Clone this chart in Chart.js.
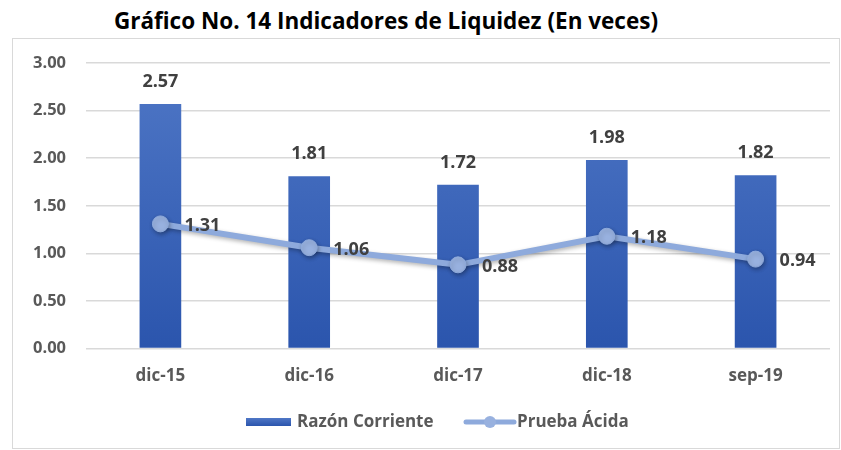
<!DOCTYPE html>
<html>
<head>
<meta charset="utf-8">
<script src="https://cdn.jsdelivr.net/npm/chart.js@4"></script>
<style>
  body { margin: 0; background: #fff; width: 841px; height: 450px; overflow: hidden; position: relative; font-family: "Open Sans", "Noto Sans", sans-serif; }
  #title { position: absolute; left: 0; top: 5px; width: 772px; text-align: center; font-weight: bold; font-size: 22.5px; color: #000; white-space: nowrap; }
  #box { position: absolute; left: 12px; top: 38px; width: 826px; height: 409px; border: 1px solid #d9d9d9; }
  #box canvas { display: block; }
</style>
</head>
<body>
<div id="title">Gráfico No. 14 Indicadores de Liquidez (En veces)</div>
<div id="box"><canvas id="chart" width="826" height="409"></canvas></div>
<script>
// Chart data
const categories = ["dic-15", "dic-16", "dic-17", "dic-18", "sep-19"];
const razonCorriente = [2.57, 1.81, 1.72, 1.98, 1.82];
const pruebaAcida = [1.31, 1.06, 0.88, 1.18, 0.94];
const yTicks = [0, 0.5, 1, 1.5, 2, 2.5, 3];

const labelColor = "#595959";
const valueColor = "#404040";
const fontFamily = "'Open Sans', 'Noto Sans', sans-serif";

// vertical gradient for the bars
function barGradient(ctx) {
  const area = ctx.chart.chartArea;
  if (!area) return "#3560b8";
  const g = ctx.chart.ctx.createLinearGradient(0, area.top, 0, area.bottom);
  g.addColorStop(0, "#4f77c6");
  g.addColorStop(1, "#2b55ad");
  return g;
}

// value labels on bars and line points
const valueLabels = {
  id: "valueLabels",
  afterDatasetsDraw(chart) {
    const c = chart.ctx;
    c.save();
    c.font = "bold 18px " + fontFamily;
    c.fillStyle = valueColor;
    chart.data.datasets.forEach((ds, i) => {
      const meta = chart.getDatasetMeta(i);
      meta.data.forEach((el, j) => {
        const txt = ds.data[j].toFixed(2);
        if (ds.type === "bar") {
          c.textAlign = "center";
          c.textBaseline = "middle";
          c.fillText(txt, el.x, el.y - 22);
        } else {
          c.textAlign = "left";
          c.textBaseline = "middle";
          c.fillText(txt, el.x + 24, el.y + 2);
        }
      });
    });
    c.restore();
  }
};

// line shadow
const lineShadow = {
  id: "lineShadow",
  beforeDatasetDraw(chart, args) {
    if (chart.data.datasets[args.index].type === "line") {
      const c = chart.ctx;
      c.save();
      c.shadowColor = "rgba(0,0,0,0.3)";
      c.shadowBlur = 4;
      c.shadowOffsetX = 1;
      c.shadowOffsetY = 2;
    }
  },
  afterDatasetDraw(chart, args) {
    if (chart.data.datasets[args.index].type === "line") chart.ctx.restore();
  }
};

// custom legend at the bottom
const bottomLegend = {
  id: "bottomLegend",
  afterDraw(chart) {
    const c = chart.ctx;
    const y = 383;
    c.save();
    c.font = "bold 17px " + fontFamily;
    c.textBaseline = "middle";
    c.textAlign = "left";
    // bar swatch
    const g = c.createLinearGradient(0, y - 4, 0, y + 4);
    g.addColorStop(0, "#4f77c6");
    g.addColorStop(1, "#2b55ad");
    c.fillStyle = g;
    c.fillRect(233, y - 4, 45, 8);
    c.fillStyle = labelColor;
    c.fillText("Razón Corriente", 284, y);
    // line swatch
    c.strokeStyle = "#8eaadc";
    c.lineWidth = 5;
    c.lineCap = "round";
    c.beginPath();
    c.moveTo(453, y);
    c.lineTo(501, y);
    c.stroke();
    c.fillStyle = "#98b1df";
    c.beginPath();
    c.arc(477, y, 6, 0, Math.PI * 2);
    c.fill();
    c.fillStyle = labelColor;
    c.fillText("Prueba Ácida", 504, y);
    c.restore();
  }
};

new Chart(document.getElementById("chart"), {
  data: {
    labels: categories,
    datasets: [
      {
        type: "line",
        label: "Prueba Ácida",
        data: pruebaAcida,
        borderColor: "#8eaadc",
        borderWidth: 6,
        pointRadius: 8,
        pointBackgroundColor: "#98b1df",
        pointBorderColor: "#8eaadc",
        pointBorderWidth: 1,
        tension: 0,
        order: 1
      },
      {
        type: "bar",
        label: "Razón Corriente",
        data: razonCorriente,
        backgroundColor: barGradient,
        categoryPercentage: 1,
        barPercentage: 0.28,
        order: 2
      }
    ]
  },
  options: {
    responsive: false,
    animation: false,
    layout: { padding: { top: 24, right: 8, bottom: 45, left: 0 } },
    plugins: { legend: { display: false }, tooltip: { enabled: false } },
    scales: {
      x: {
        grid: { display: false, drawTicks: false },
        border: { display: false },
        ticks: { color: labelColor, font: { family: fontFamily, size: 17, weight: "bold" }, padding: 17 }
      },
      y: {
        min: 0,
        max: 3,
        afterFit: s => { s.width = 73; s.paddingTop = 0; s.paddingBottom = 0; },
        afterBuildTicks: s => { s.ticks = yTicks.map(v => ({ value: v })); },
        grid: { color: "#d9d9d9", lineWidth: 1.5, drawTicks: false },
        border: { display: false },
        ticks: {
          color: labelColor,
          padding: 20,
          font: { family: fontFamily, size: 16.5, weight: "bold" },
          callback: v => v.toFixed(2)
        }
      }
    }
  },
  plugins: [valueLabels, lineShadow, bottomLegend]
});
</script>
</body>
</html>
